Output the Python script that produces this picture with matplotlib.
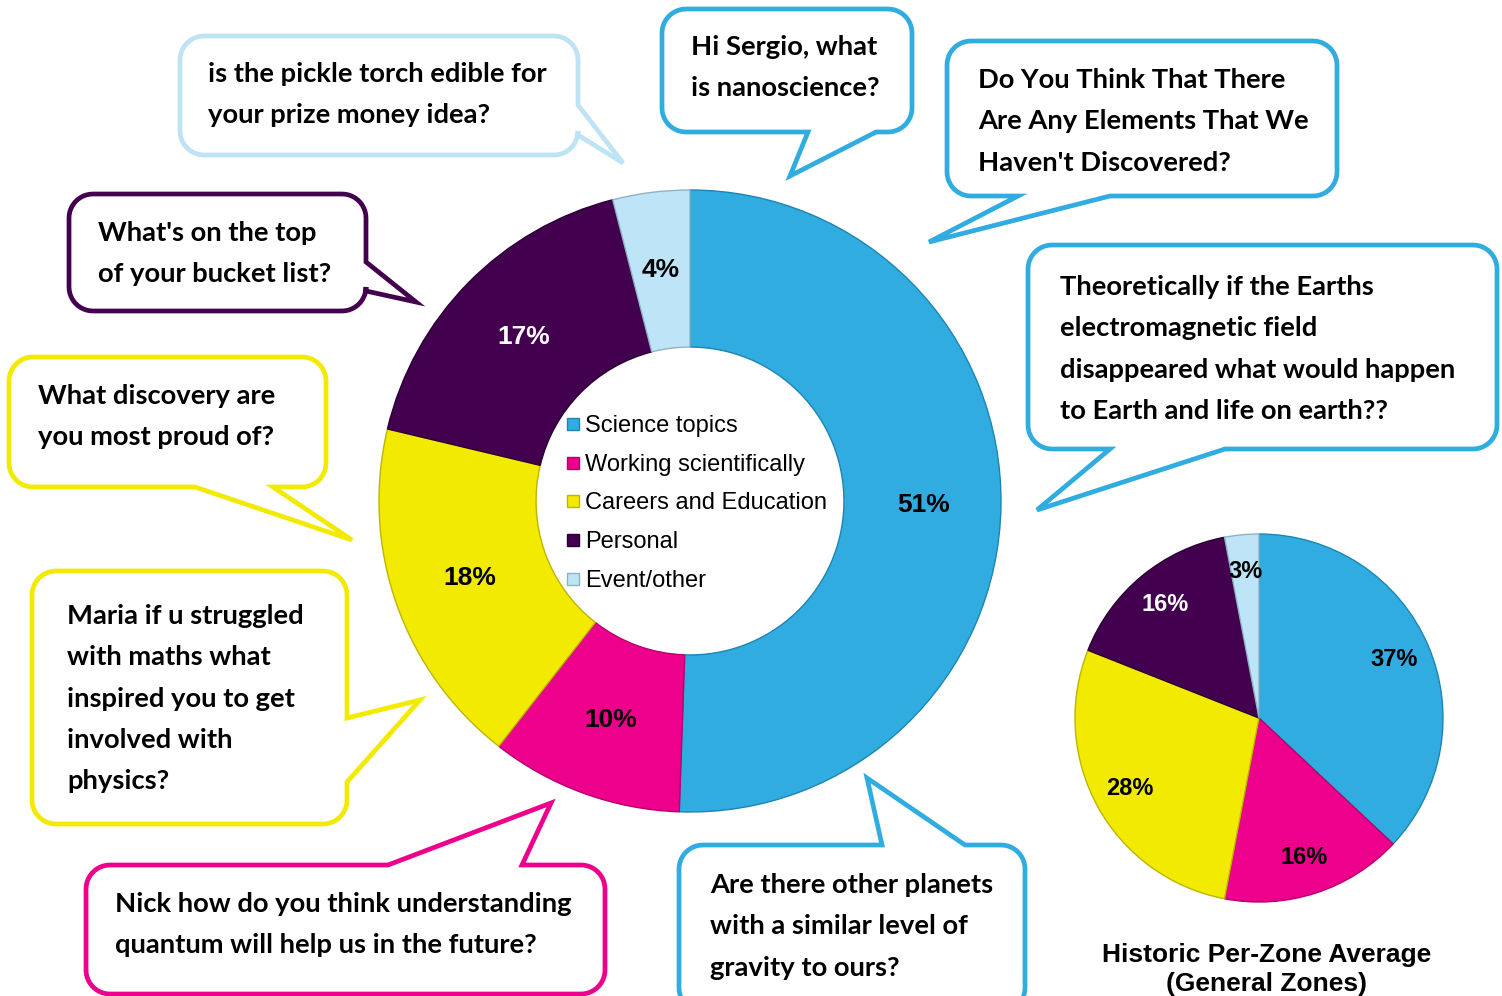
import numpy as np
import matplotlib
matplotlib.use("Agg")
import matplotlib.pyplot as plt
from matplotlib.patches import Polygon, Rectangle

# data
categories = ["Science topics", "Working scientifically", "Careers and Education", "Personal", "Event/other"]
this_event = [50.6, 10.0, 18.2, 17.3, 4.0]
historic_avg = [37, 16, 28, 16, 3]
historic_title = ["Historic Per-Zone Average", "(General Zones)"]

questions = [
    ["is the pickle torch edible for", "your prize money idea?"],
    ["Hi Sergio, what", "is nanoscience?"],
    ["Do You Think That There", "Are Any Elements That We", "Haven't Discovered?"],
    ["Theoretically if the Earths", "electromagnetic field", "disappeared what would happen", "to Earth and life on earth??"],
    ["What's on the top", "of your bucket list?"],
    ["What discovery are", "you most proud of?"],
    ["Maria if u struggled", "with maths what", "inspired you to get", "involved with", "physics?"],
    ["Nick how do you think understanding", "quantum will help us in the future?"],
    ["Are there other planets", "with a similar level of", "gravity to ours?"],
]

# styles
colors = ["#30ACE0", "#EC008C", "#F2EA00", "#42004F", "#BDE5F7"]
edges = ["#1C85B5", "#B8006C", "#BDB500", "#2A0033", "#8FB3C4"]
pct_colors = ["black", "black", "black", "white", "black"]

# bubble layout in pixels: box (x0, y0, x1, y1), tail (side, a, b, tip), text x, first baseline
bubble_layout = [
    dict(c="#BDE3F5", box=(180, 36, 578, 155), tail=("right", 105, 135, (623, 163)), x=208, y=82),
    dict(c="#30ACE0", box=(662, 9, 912, 132), tail=("bottom", 808, 876, (790, 176)), x=691, y=55),
    dict(c="#30ACE0", box=(947, 41, 1337, 196), tail=("bottom", 1018, 1110, (929, 242)), x=978, y=88),
    dict(c="#30ACE0", box=(1028, 245, 1497, 449), tail=("bottom", 1110, 1225, (1037, 510)), x=1060, y=295),
    dict(c="#42004F", box=(69, 194, 366, 311), tail=("right", 262, 291, (416, 302)), x=98, y=241),
    dict(c="#F2EA00", box=(9, 357, 326, 487), tail=("bottom", 195, 273, (352, 540)), x=38, y=404),
    dict(c="#F2EA00", box=(32, 571, 347, 824), tail=("right", 718, 782, (420, 700)), x=67, y=624),
    dict(c="#EC008C", box=(86, 865, 605, 994), tail=("top", 388, 522, (551, 803)), x=115, y=912),
    dict(c="#30ACE0", box=(679, 845, 1025, 1012), tail=("top", 882, 965, (867, 778)), x=710, y=893),
]
line_pitch = 41.3

W, H = 1502, 996
fig = plt.figure(figsize=(W / 100, H / 100), dpi=100)
fig.patch.set_facecolor("white")
renderer = fig.canvas.get_renderer()

# size the bubble font so the first line of the first bubble matches the reference width
probe = fig.text(0, 0, questions[0][0], fontfamily="Lato", fontweight="bold", fontsize=20)
bubble_fs = 20 * 339 / probe.get_window_extent(renderer).width
probe.remove()

bg = fig.add_axes([0, 0, 1, 1])
bg.set_xlim(0, W)
bg.set_ylim(H, 0)
bg.axis("off")


def arc(cx, cy, r, t0, t1, n=12):
    t = np.radians(np.linspace(t0, t1, n))
    return list(zip(cx + r * np.cos(t), cy + r * np.sin(t)))


def bubble_points(x0, y0, x1, y1, tail, r=24):
    side, a, b, tip = tail
    lo, hi = min(a, b), max(a, b)
    pts = [(x0 + r, y0)]
    if side == "top":
        pts += [(lo, y0), tip, (hi, y0)]
    pts += arc(x1 - r, y0 + r, r, -90, 0)
    if side == "right":
        pts += [(x1, lo), tip, (x1, hi)]
    pts += arc(x1 - r, y1 - r, r, 0, 90)
    if side == "bottom":
        pts += [(hi, y1), tip, (lo, y1)]
    pts += arc(x0 + r, y1 - r, r, 90, 180)
    if side == "left":
        pts += [(x0, hi), tip, (x0, lo)]
    pts += arc(x0 + r, y0 + r, r, 180, 270)
    return pts


for lines, lay in zip(questions, bubble_layout):
    poly = Polygon(bubble_points(*lay["box"], lay["tail"]), closed=True, facecolor="white",
                   edgecolor=lay["c"], linewidth=3.4, joinstyle="miter")
    bg.add_patch(poly)
    for i, ln in enumerate(lines):
        bg.text(lay["x"], lay["y"] + i * line_pitch, ln, fontfamily="Lato", fontweight="bold",
                fontsize=bubble_fs, color="black", ha="left", va="baseline")

# legend inside the donut
leg_y = [424, 463, 501, 540, 579]
for cat, col, ec, yy in zip(categories, colors, edges, leg_y):
    bg.add_patch(Rectangle((567, yy - 6), 12, 12, facecolor=col, edgecolor=ec, linewidth=1))
    bg.text(585, yy + 8, cat, fontfamily="Liberation Sans", fontsize=17, color="black",
            ha="left", va="baseline")

# historic title
for i, t in enumerate(historic_title):
    bg.text(1267, 962 + i * 29, t, fontfamily="Liberation Sans", fontweight="bold", fontsize=19,
            ha="center", va="baseline")


def pie_axes(cx, cy, R, pad=1.01):
    h = R * pad
    ax = fig.add_axes([(cx - h) / W, (H - cy - h) / H, 2 * h / W, 2 * h / H])
    return ax


# main donut
ax1 = pie_axes(690, 501, 311)
wedges, _, pcts = ax1.pie(this_event, colors=colors, startangle=90, counterclock=False, radius=1,
                          wedgeprops=dict(width=0.505, linewidth=1), autopct="%.0f%%", pctdistance=0.75,
                          textprops=dict(fontfamily="Liberation Sans", fontweight="bold", fontsize=19))
for w, ec in zip(wedges, edges):
    w.set_edgecolor(ec)
for t, c in zip(pcts, pct_colors):
    t.set_color(c)
ax1.set_xlim(-1.01, 1.01)
ax1.set_ylim(-1.01, 1.01)
ax1.axis("off")

# historic pie
ax2 = pie_axes(1259, 718, 184)
wedges2, _, pcts2 = ax2.pie(historic_avg, colors=colors, startangle=90, counterclock=False, radius=1,
                            wedgeprops=dict(linewidth=1), autopct="%.0f%%", pctdistance=0.8,
                            textprops=dict(fontfamily="Liberation Sans", fontweight="bold", fontsize=17))
for w, ec in zip(wedges2, edges):
    w.set_edgecolor(ec)
for t, c in zip(pcts2, pct_colors):
    t.set_color(c)
ax2.set_xlim(-1.01, 1.01)
ax2.set_ylim(-1.01, 1.01)
ax2.axis("off")

fig.savefig("out.png", dpi=100, facecolor="white")
